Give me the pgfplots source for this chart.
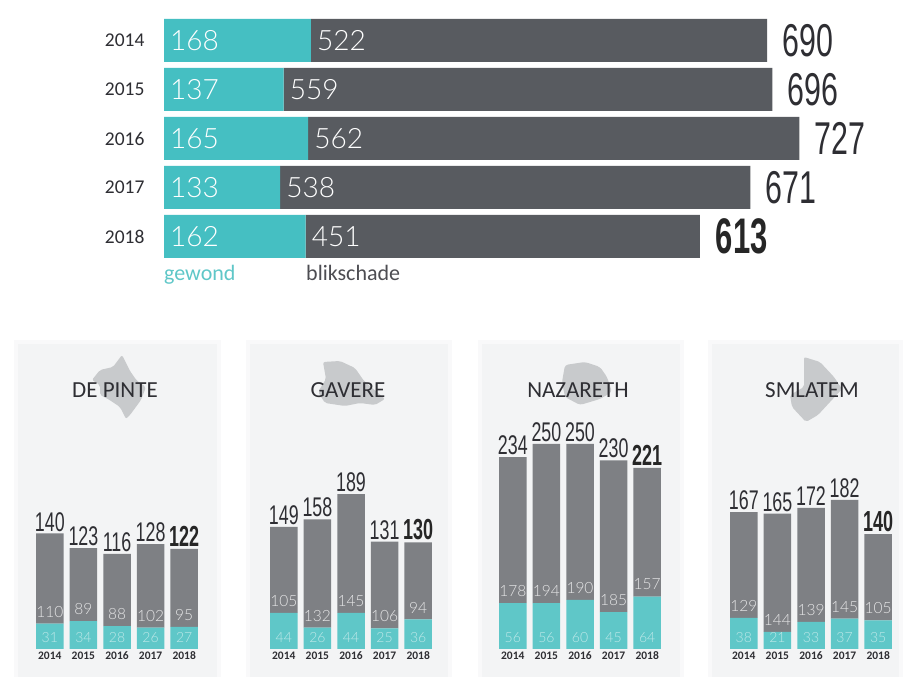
\documentclass[border=0pt]{standalone}
\usepackage{pgfplots}
\usepackage{pgfplotstable}
\usepackage{fontspec}
\pgfplotsset{compat=1.18}
\setmainfont{Carlito}
\newfontfamily\condf[FakeStretch=0.66]{Liberation Sans}
\newfontfamily\condb[FakeStretch=0.62]{Liberation Sans Bold}
\newfontfamily\lightf{Lato Light}
\definecolor{tealM}{HTML}{45BFC2}
\definecolor{darkM}{HTML}{585B60}
\definecolor{tealS}{HTML}{5FC7C8}
\definecolor{grayS}{HTML}{7E8084}
\definecolor{inkT}{HTML}{2E2E33}
\definecolor{panel}{HTML}{F3F4F5}
\definecolor{panelO}{HTML}{F9F9FA}
\definecolor{blob}{HTML}{C8CACC}
\newcommand{\fs}[1]{\fontsize{#1}{#1}\selectfont}

\pgfplotstableread{
y teal gray total
0 168 522 690
1 137 559 696
2 165 562 727
3 133 538 671
4 162 451 613
}\mainT
\pgfplotstableread{
x teal gray total
0 31 110 140
1 34 89 123
2 28 88 116
3 26 102 128
4 27 95 122
}\pinteT
\pgfplotstableread{
x teal gray total
0 44 105 149
1 26 132 158
2 44 145 189
3 25 106 131
4 36 94 130
}\gavereT
\pgfplotstableread{
x teal gray total
0 56 178 234
1 56 194 250
2 60 190 250
3 45 185 230
4 64 157 221
}\nazT
\pgfplotstableread{
x teal gray total
0 38 129 167
1 21 144 165
2 33 139 172
3 37 145 182
4 35 105 140
}\smlT

\pgfplotsset{
 smallax/.style={
  scale only axis, width=168pt, height=246pt, anchor=south west,
  xmin=-0.5, xmax=4.5, ymin=0, ymax=300, clip=false,
  axis line style={draw=none}, major tick length=0pt,
  xtick={0,1,2,3,4}, xticklabels={2014,2015,2016,2017,2018},
  ytick=\empty,
  xticklabel style={font=\fs{11.5}\bfseries, text=inkT, yshift=1pt},
 },
 lab/.style={draw=none, forget plot, point meta=explicit symbolic, nodes near coords,
  every node near coord/.append style={#1}},
}
\newcommand{\panelax}[2]{%
 \begin{axis}[smallax, at={(#1pt,28pt)}, ybar stacked, bar width=27.5pt]
  \addplot[fill=tealS, draw=none] table[x=x,y=teal]{#2};
  \addplot[fill=grayS, draw=none] table[x=x,y=gray]{#2};
 \end{axis}
 \begin{axis}[smallax, at={(#1pt,28pt)}, xticklabels={}]
  \addplot[lab={anchor=center, font=\lightf\fs{14}, text=white, opacity=.6}]
     table[x=x, y expr=14, meta=teal]{#2};
  \addplot[lab={anchor=center, font=\lightf\fs{15.5}, text=white, opacity=.8, yshift=12pt}]
     table[x=x, y=teal, meta=gray]{#2};
  \addplot[lab={anchor=south, font=\condf\fs{27}, text=inkT, inner sep=0pt, yshift=2pt}, restrict x to domain=0:3]
     table[x=x, y=total, meta=total]{#2};
  \addplot[lab={anchor=south, font=\condb\fs{29}, text=black!85, inner sep=0pt, yshift=2pt}, restrict x to domain=4:4]
     table[x=x, y=total, meta=total]{#2};
 \end{axis}}

\begin{document}
\begin{tikzpicture}[x=1pt,y=1pt]
\useasboundingbox (0,0) rectangle (903,677);
\fill[white] (0,0) rectangle (903,677);
% panels
\foreach \a/\b in {14/221,246/452,478/684,708/903}{
  \fill[panelO] (\a,0) rectangle (\b,337);
  \fill[panel] (\a+4,0) rectangle (\b-4,333);
}
% map silhouettes
\fill[blob, rounded corners=2pt] (92,297)--(100,307)--(113,310)--(122,322)--(130,306)--(137,296)--(146,290)--(141,277)--(130,262)--(126,258)--(120,270)--(108,278)--(100,282)--(100,292)--cycle;
\fill[blob, rounded corners=2pt] (323,315)--(340,316)--(355,309)--(364,296)--(371,290)--(385,278)--(375,272)--(360,274)--(345,271)--(325,274)--(318,285)--(326,298)--cycle;
\fill[blob, rounded corners=3pt] (565,312)--(585,315)--(600,310)--(607,300)--(612,285)--(600,278)--(580,272)--(565,280)--(562,295)--cycle;
\fill[blob, rounded corners=2pt] (804,320)--(820,315)--(834,300)--(842,288)--(830,275)--(818,262)--(806,255)--(792,270)--(790,282)--(804,290)--cycle;
% titles
\foreach \x/\t in {115/DE PINTE,348/GAVERE,578/NAZARETH,812/SMLATEM}{
  \node[font=\fs{23}, text=inkT] at (\x,287) {\t};
}
% main chart
\begin{axis}[scale only axis, width=739pt, height=245pt, at={(164pt,416pt)}, anchor=south west,
  xmin=0, xmax=845.5, ymin=-0.5, ymax=4.5, y dir=reverse, clip=false,
  xbar stacked, bar width=43pt,
  axis line style={draw=none}, major tick length=0pt,
  xtick=\empty, ytick={0,1,2,3,4}, yticklabels={2014,2015,2016,2017,2018},
  yticklabel style={font=\fs{19.5}, text=inkT, xshift=-16pt}]
  \addplot[fill=tealM, draw=none] table[y=y,x=teal]{\mainT};
  \addplot[fill=darkM, draw=none] table[y=y,x=gray]{\mainT};
\end{axis}
\begin{axis}[scale only axis, width=739pt, height=245pt, at={(164pt,416pt)}, anchor=south west,
  xmin=0, xmax=845.5, ymin=-0.5, ymax=4.5, y dir=reverse, clip=false,
  axis line style={draw=none}, major tick length=0pt, xtick=\empty, ytick=\empty]
  \addplot[lab={anchor=west, font=\lightf\fs{28}, text=white, inner sep=0pt, xshift=6pt}]
     table[x expr=0, y=y, meta=teal]{\mainT};
  \addplot[lab={anchor=west, font=\lightf\fs{28}, text=white, inner sep=0pt, xshift=6pt}]
     table[x=teal, y=y, meta=gray]{\mainT};
  \addplot[lab={anchor=west, font=\condf\fs{46}, text=inkT, inner sep=0pt, xshift=15pt}, restrict y to domain=0:3]
     table[x=total, y=y, meta=total]{\mainT};
  \addplot[lab={anchor=west, font=\condb\fs{50}, text=black!85, inner sep=0pt, xshift=16pt}, restrict y to domain=4:4]
     table[x=total, y=y, meta=total]{\mainT};
\end{axis}
\node[anchor=base west, inner sep=0pt, font=\fs{22}, text=tealS] at (164,396) {gewond};
\node[anchor=base west, inner sep=0pt, font=\fs{22}, text=inkT!85] at (306,396) {blikschade};
% small multiples
\panelax{33}{\pinteT}
\panelax{267}{\gavereT}
\panelax{496}{\nazT}
\panelax{727}{\smlT}
\end{tikzpicture}
\end{document}
